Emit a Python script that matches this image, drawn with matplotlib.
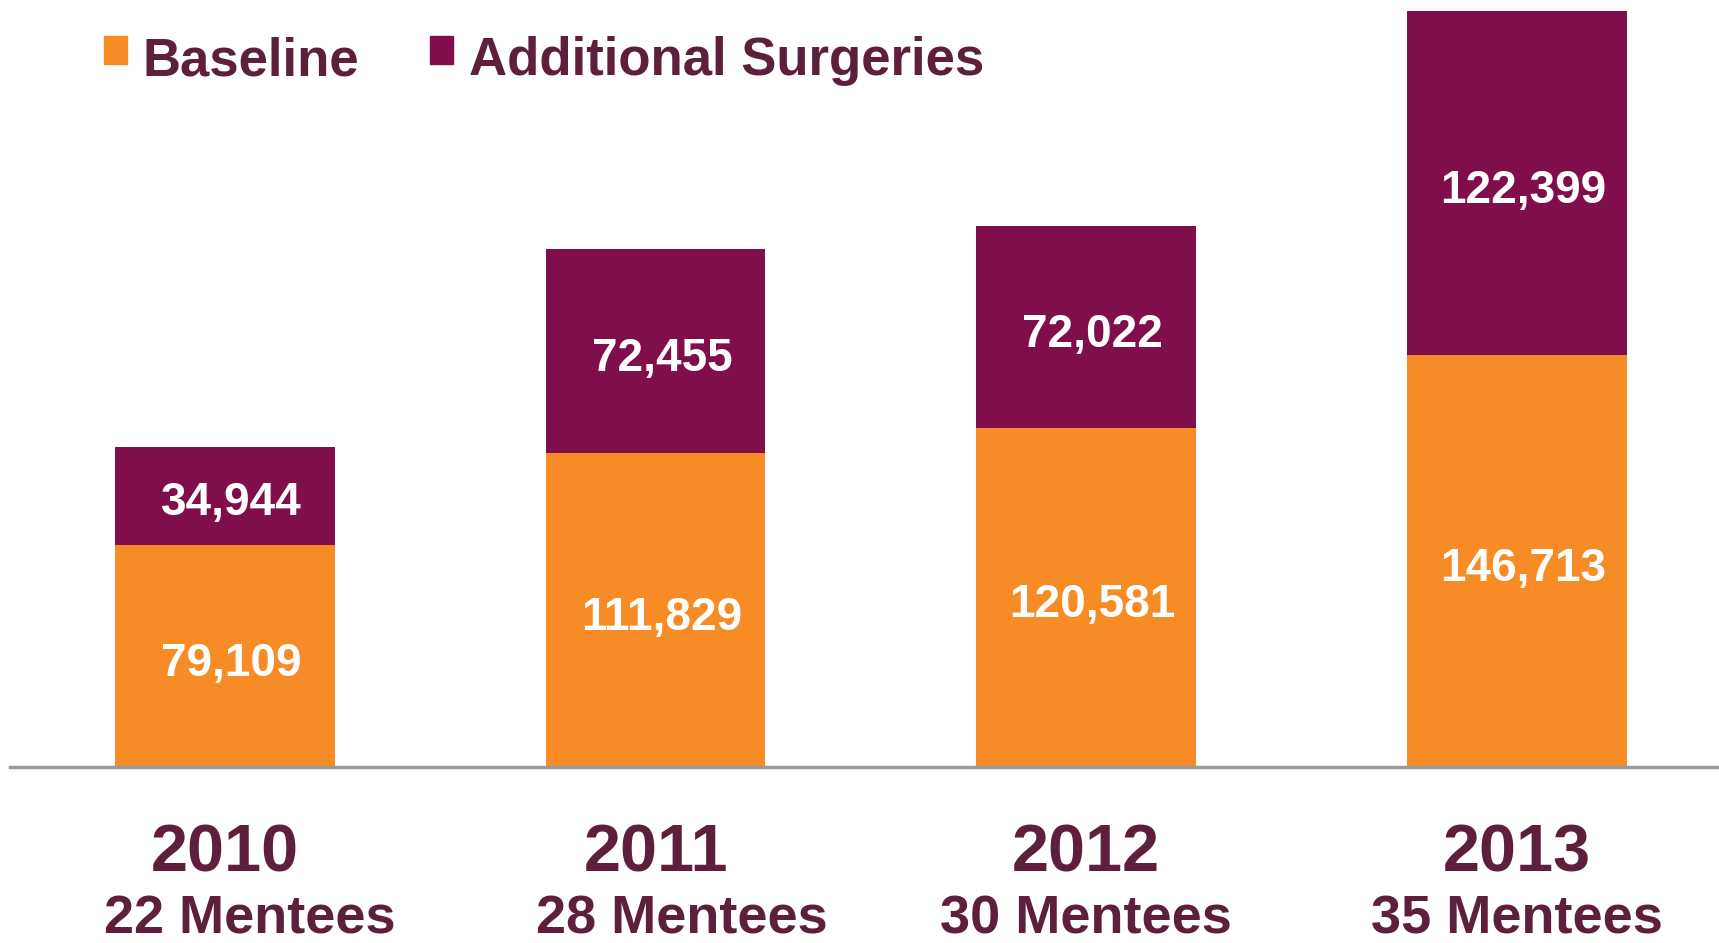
import matplotlib.pyplot as plt
from matplotlib.patches import Patch, Rectangle
from matplotlib.legend_handler import HandlerPatch
import numpy as np

# data
years = ['2010', '2011', '2012', '2013']
mentees = ['22 Mentees', '28 Mentees', '30 Mentees', '35 Mentees']
baseline = [79109, 111829, 120581, 146713]
additional = [34944, 72455, 72022, 122399]

orange = '#F78B25'
maroon = '#800E4A'
textcol = '#5E1F3D'
font = ['Liberation Sans', 'DejaVu Sans']
mentee_shift = [0.058, 0.062, 0.0, 0.0]  # second line sits a bit right under the first two years

fig = plt.figure(figsize=(17.19, 9.43), dpi=100)
ax = fig.add_axes([10/1719, 176/943, 1709/1719, 767/943])

x = np.arange(len(years))
w = 0.51
b1 = ax.bar(x, baseline, width=w, color=orange, label='Baseline')
b2 = ax.bar(x, additional, width=w, bottom=baseline, color=maroon, label='Additional Surgeries')

# value labels in the middle of each segment
for bars, vals in [(b1, baseline), (b2, additional)]:
    for rect, v in zip(bars, vals):
        ax.annotate(f'{v:,}', (rect.get_x() + rect.get_width()/2, rect.get_y() + rect.get_height()/2),
                    xytext=(4.5, -5.5), textcoords='offset points',
                    ha='center', va='center', color='white',
                    fontsize=33, fontweight='bold', family=font)

ax.set_xlim(-0.499, 3.469)
ax.set_ylim(0, 273000)
ax.set_yticks([])
ax.set_xticks([])
for s in ['top', 'right', 'left']:
    ax.spines[s].set_visible(False)
ax.spines['bottom'].set_color('#9A9A9A')
ax.spines['bottom'].set_linewidth(2.5)

# two-line category labels
tr = ax.get_xaxis_transform()
for i in x:
    ax.text(i, -0.114, years[i], transform=tr, ha='center', va='center',
            fontsize=48, fontweight='bold', color=textcol, family=font)
    ax.text(i + mentee_shift[i], -0.199, mentees[i], transform=tr, ha='center', va='center',
            fontsize=39, fontweight='bold', color=textcol, family=font)


def raised_square(legend, orig_handle, xdescent, ydescent, width, height, fontsize):
    # square sits up at cap height, like the original
    return Rectangle((-xdescent, -ydescent + 0.12*fontsize), width, height)


handles = [Patch(color=orange), Patch(color=maroon)]
leg = fig.legend(handles, ['Baseline', 'Additional Surgeries'], loc='upper left',
                 bbox_to_anchor=(104/1719, 1 - 36/943), ncol=2, frameon=False,
                 borderpad=0, borderaxespad=0, handlelength=0.43, handleheight=0.43,
                 handletextpad=0.3, columnspacing=1.35,
                 handler_map={Patch: HandlerPatch(patch_func=raised_square)},
                 prop={'family': font, 'weight': 'bold', 'size': 38})
for t in leg.get_texts():
    t.set_color(textcol)

fig.savefig('out.png', dpi=100)
